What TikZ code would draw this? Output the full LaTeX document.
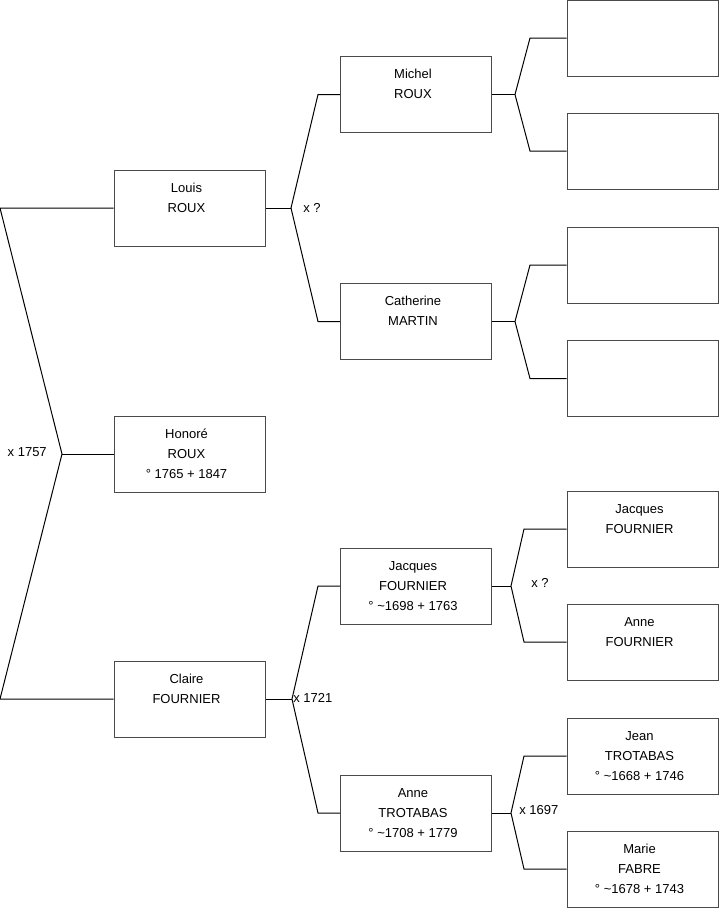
\documentclass[tikz,border=0pt]{standalone}
\usepackage{fontspec}
\setmainfont{Liberation Sans}
\usetikzlibrary{positioning, calc}
\definecolor{boxgray}{HTML}{4A4A4A}

\tikzset{
  person/.style={draw=boxgray, line width=0.75pt, minimum width=113.25pt,
    minimum height=57pt, inner sep=0pt,
    font=\fontsize{9.75}{15}\selectfont},
  link/.style={black, line width=0.75pt},
  wed/.style={font=\fontsize{9.75}{11}\selectfont, inner sep=0pt}
}
\newcommand{\pers}[3]{\begin{tabular}{@{}c@{\hspace{4.5pt}}}#1\\#2\\\mbox{}#3\end{tabular}}

\begin{document}
\begin{tikzpicture}[x=0.75pt, y=-0.75pt]
\useasboundingbox (0,0) rectangle (719,908);

% Generation 1
\node[person] (louis)  at (189.5,208) {\pers{Louis}{ROUX}{}};
\node[person] (honore) at (189.5,454) {\pers{Honoré}{ROUX}{° 1765 + 1847}};
\node[person] (claire) at (189.5,699) {\pers{Claire}{FOURNIER}{}};

% Generation 2
\node[person] (michel)    at (416,94.5)  {\pers{Michel}{ROUX}{}};
\node[person] (catherine) at (416,321.5) {\pers{Catherine}{MARTIN}{}};
\node[person] (jacques)   at (416,586)   {\pers{Jacques}{FOURNIER}{° \textasciitilde1698 + 1763}};
\node[person] (anne)      at (416,813)   {\pers{Anne}{TROTABAS}{° \textasciitilde1708 + 1779}};

% Generation 3
\node[person] (unkA)     at (642.5,38)    {};
\node[person] (unkB)     at (642.5,151)   {};
\node[person] (unkC)     at (642.5,265)   {};
\node[person] (unkD)     at (642.5,378.5) {};
\node[person] (jacquesF) at (642.5,529)   {\pers{Jacques}{FOURNIER}{}};
\node[person] (anneF)    at (642.5,642)   {\pers{Anne}{FOURNIER}{}};
\node[person] (jeanT)    at (642.5,756)   {\pers{Jean}{TROTABAS}{° \textasciitilde1668 + 1746}};
\node[person] (marieF)   at (642.5,869)   {\pers{Marie}{FABRE}{° \textasciitilde1678 + 1743}};

% --- Forks ---
\coordinate (f0) at (62,454);
\coordinate (f1) at (291,208);
\coordinate (f2) at (292,699);
\coordinate (f3) at (515,94.5);
\coordinate (f4) at (515,321.5);
\coordinate (f5) at (511,586);
\coordinate (f6) at (511,813);

% Honoré's parents
\draw[link] (louis.west) -- (0,208) -- (f0) -- (0,699) -- (claire.west);
\draw[link] (f0) -- (honore.west);
\node[wed, anchor=east] (m0) at (47,452) {x 1757};

% Louis's parents
\draw[link] (louis.east) -- (f1);
\draw[link] (michel.west) -- (318,94.5) -- (f1) -- (318,321.5) -- (catherine.west);
\node[wed, anchor=west] (m1) at (303,208) {x ?};

% Claire's parents
\draw[link] (claire.east) -- (f2);
\draw[link] (jacques.west) -- (318,586) -- (f2) -- (318,813) -- (anne.west);
\node[wed, anchor=west] (m2) at (293,698) {x 1721};

% Michel's parents
\draw[link] (michel.east) -- (f3);
\draw[link] (unkA.west) -- (530,38) -- (f3) -- (530,151) -- (unkB.west);

% Catherine's parents
\draw[link] (catherine.east) -- (f4);
\draw[link] (unkC.west) -- (530,265) -- (f4) -- (530,378.5) -- (unkD.west);

% Jacques's parents
\draw[link] (jacques.east) -- (f5);
\draw[link] (jacquesF.west) -- (524,529) -- (f5) -- (524,642) -- (anneF.west);
\node[wed, anchor=west] (m5) at (531,583) {x ?};

% Anne's parents
\draw[link] (anne.east) -- (f6);
\draw[link] (jeanT.west) -- (524,756) -- (f6) -- (524,869) -- (marieF.west);
\node[wed, anchor=west] (m6) at (519,810) {x 1697};

\end{tikzpicture}
\end{document}
